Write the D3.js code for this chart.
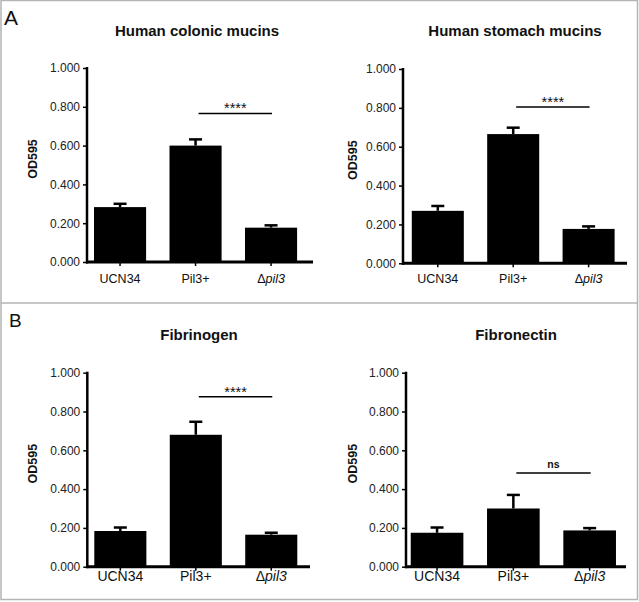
<!DOCTYPE html>
<html>
<head>
<meta charset="utf-8">
<script src="https://cdn.jsdelivr.net/npm/d3@7"></script>
<style>
  html, body { margin: 0; padding: 0; background: #fff; }
  svg { display: block; font-family: "Liberation Sans", Arial, sans-serif; }
</style>
</head>
<body>
<svg id="chart" width="639" height="602"></svg>
<script>
// ---------- data ----------
const categories = ["UCN34", "Pil3+", "Δpil3"];
const yTicks = [0, 0.2, 0.4, 0.6, 0.8, 1.0];
const titles = ["Human colonic mucins", "Human stomach mucins", "Fibrinogen", "Fibronectin"];
const colonicMeans   = [0.283, 0.600, 0.177];
const colonicErrors  = [0.017, 0.032, 0.012];
const stomachMeans   = [0.270, 0.665, 0.177];
const stomachErrors  = [0.025, 0.033, 0.013];
const fibrinogenMeans  = [0.184, 0.680, 0.165];
const fibrinogenErrors = [0.018, 0.067, 0.010];
const fibronectinMeans  = [0.175, 0.300, 0.187];
const fibronectinErrors = [0.027, 0.070, 0.012];
const sigLabels = ["****", "****", "****", "ns"];
const sigLevels = [0.766, 0.804, 0.876, 0.483];
const panelLetters = ["A", "B"];

// ---------- layout ----------
const panels = [
  { means: colonicMeans, errs: colonicErrors, axisX: 87, xEnd: 313, yTop: 68, yBot: 262, band: [82.3, 308.8], titleX: 197, titleY: 36, labX: 33, catY: 283, catSize: 12.5 },
  { means: stomachMeans, errs: stomachErrors, axisX: 403, xEnd: 627, yTop: 69, yBot: 263.3, band: [400.1, 626.3], titleX: 515, titleY: 36, labX: 353, catY: 283, catSize: 12.5 },
  { means: fibrinogenMeans, errs: fibrinogenErrors, axisX: 87.3, xEnd: 310, yTop: 372.7, yBot: 566.7, band: [82.6, 309], titleX: 199, titleY: 340, labX: 33, catY: 581, catSize: 14 },
  { means: fibronectinMeans, errs: fibronectinErrors, axisX: 406, xEnd: 626, yTop: 372.7, yBot: 566.7, band: [398.9, 627.8], titleX: 516, titleY: 340, labX: 353, catY: 581, catSize: 14 }
];

const svg = d3.select("#chart");

// frame
svg.append("rect").attr("x", 1).attr("y", 0.5).attr("width", 636.5).attr("height", 599)
  .attr("fill", "none").attr("stroke", "#b4b4b4").attr("stroke-width", 1.5);
svg.append("line").attr("x1", 1).attr("x2", 638).attr("y1", 303).attr("y2", 303)
  .attr("stroke", "#b4b4b4").attr("stroke-width", 1.5);

svg.append("text").attr("x", 4).attr("y", 25).attr("font-size", 21).attr("fill", "#111").text(panelLetters[0]);
svg.append("text").attr("x", 9).attr("y", 327).attr("font-size", 19).attr("fill", "#111").text(panelLetters[1]);

panels.forEach((p, i) => {
  const g = svg.append("g");
  const y = d3.scaleLinear().domain([0, 1]).range([p.yBot, p.yTop]);
  const x = d3.scaleBand().domain(categories).range(p.band).paddingInner(0.31).paddingOuter(0.155);

  // title
  g.append("text").attr("x", p.titleX).attr("y", p.titleY).attr("text-anchor", "middle")
    .attr("font-size", 15).attr("font-weight", "bold").attr("fill", "#111").text(titles[i]);

  // y label
  g.append("text").attr("transform", `translate(${p.labX + 4},${(p.yTop + p.yBot) / 2 - 6}) rotate(-90)`)
    .attr("text-anchor", "middle").attr("font-size", 12.5).attr("font-weight", "bold").attr("fill", "#111").text("OD595");

  // bars
  g.selectAll("rect.bar").data(p.means).join("rect").attr("class", "bar")
    .attr("x", (d, k) => x(categories[k]))
    .attr("width", x.bandwidth())
    .attr("y", d => y(d))
    .attr("height", d => y(0) - y(d))
    .attr("fill", "#000");

  // error bars (upper only)
  p.means.forEach((m, k) => {
    const cx = x(categories[k]) + x.bandwidth() / 2;
    g.append("line").attr("x1", cx).attr("x2", cx).attr("y1", y(m)).attr("y2", y(m + p.errs[k]))
      .attr("stroke", "#000").attr("stroke-width", 2.5);
    g.append("line").attr("x1", cx - 6.5).attr("x2", cx + 6.5).attr("y1", y(m + p.errs[k])).attr("y2", y(m + p.errs[k]))
      .attr("stroke", "#000").attr("stroke-width", 2.5);
  });

  // y axis
  const yAxis = g.append("g").attr("transform", `translate(${p.axisX},0)`)
    .call(d3.axisLeft(y).tickValues(yTicks).tickFormat(d3.format(".3f")).tickSize(4).tickPadding(3));
  yAxis.select(".domain").remove();
  yAxis.selectAll(".tick line").attr("stroke", "#000").attr("stroke-width", 1.5);
  yAxis.selectAll(".tick text").attr("font-size", 12).attr("fill", "#222")
    .attr("font-family", "'Liberation Sans', Arial, sans-serif");
  g.append("line").attr("x1", p.axisX).attr("x2", p.axisX).attr("y1", y(1) - 1).attr("y2", y(0) + 1.5)
    .attr("stroke", "#000").attr("stroke-width", 2.5);

  // x axis
  const xAxis = g.append("g").attr("transform", `translate(0,${y(0)})`)
    .call(d3.axisBottom(x).tickSize(4).tickFormat(""));
  xAxis.select(".domain").remove();
  xAxis.selectAll(".tick line").attr("stroke", "#000").attr("stroke-width", 1.5);
  g.append("line").attr("x1", p.axisX - 1).attr("x2", p.xEnd).attr("y1", y(0)).attr("y2", y(0))
    .attr("stroke", "#000").attr("stroke-width", 3);

  // category labels
  categories.forEach((c, k) => {
    const cx = x(c) + x.bandwidth() / 2;
    const t = g.append("text").attr("x", cx).attr("y", p.catY).attr("text-anchor", "middle")
      .attr("font-size", p.catSize).attr("fill", "#111");
    if (c.startsWith("Δ")) {
      t.append("tspan").text("Δ");
      t.append("tspan").attr("font-style", "italic").text(c.slice(1));
    } else {
      t.text(c);
    }
  });

  // significance bar
  const x1 = x(categories[1]) + x.bandwidth() / 2 + 3;
  const x2 = x(categories[2]) + x.bandwidth() / 2 + 1;
  g.append("line").attr("x1", x1).attr("x2", x2).attr("y1", y(sigLevels[i])).attr("y2", y(sigLevels[i]))
    .attr("stroke", "#000").attr("stroke-width", 1.5);
  const isNs = sigLabels[i] === "ns";
  g.append("text").attr("x", (x1 + x2) / 2).attr("y", y(sigLevels[i]) - (isNs ? 5 : 0))
    .attr("text-anchor", "middle").attr("font-size", isNs ? 10.5 : 14.5)
    .attr("font-weight", isNs ? "bold" : "normal").attr("fill", "#111").text(sigLabels[i]);
});
</script>
</body>
</html>
